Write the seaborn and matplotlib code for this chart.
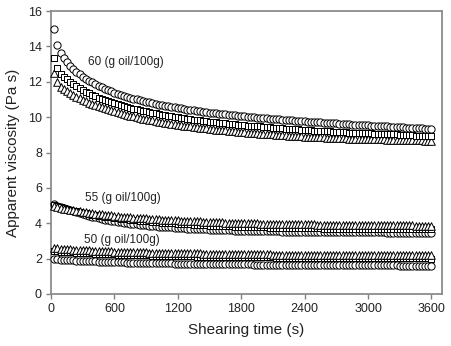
import matplotlib
matplotlib.use("Agg")
import matplotlib.pyplot as plt
import seaborn as sns
import pandas as pd

# ---------------- data ----------------
time_s = list(range(30, 3601, 30))

c60 = [14.96, 14.08, 13.62, 13.33, 13.10, 12.90, 12.72, 12.56, 12.42, 12.29,
       12.17, 12.06, 11.96, 11.86, 11.77, 11.69, 11.61, 11.53, 11.46, 11.39,
       11.33, 11.27, 11.21, 11.15, 11.10, 11.05, 11.00, 10.95, 10.91, 10.87,
       10.83, 10.79, 10.75, 10.71, 10.67, 10.64, 10.61, 10.58, 10.55, 10.52,
       10.49, 10.46, 10.43, 10.41, 10.38, 10.36, 10.33, 10.31, 10.28, 10.26,
       10.24, 10.22, 10.20, 10.18, 10.16, 10.14, 10.12, 10.10, 10.08, 10.06,
       10.04, 10.02, 10.01, 9.99, 9.97, 9.96, 9.94, 9.93, 9.91, 9.90,
       9.88, 9.87, 9.85, 9.84, 9.83, 9.81, 9.80, 9.79, 9.78, 9.76,
       9.75, 9.74, 9.72, 9.71, 9.70, 9.69, 9.67, 9.66, 9.65, 9.64,
       9.63, 9.61, 9.60, 9.59, 9.58, 9.57, 9.56, 9.55, 9.54, 9.53,
       9.52, 9.51, 9.50, 9.49, 9.48, 9.47, 9.46, 9.45, 9.44, 9.43,
       9.42, 9.41, 9.40, 9.39, 9.38, 9.37, 9.36, 9.35, 9.34, 9.33]

s60 = [13.32, 12.76, 12.44, 12.28, 12.13, 12.00, 11.87, 11.75, 11.64, 11.54,
       11.44, 11.34, 11.26, 11.17, 11.10, 11.03, 10.96, 10.90, 10.84, 10.79,
       10.74, 10.68, 10.63, 10.57, 10.53, 10.48, 10.44, 10.39, 10.36, 10.32,
       10.28, 10.25, 10.21, 10.17, 10.14, 10.11, 10.08, 10.06, 10.03, 10.00,
       9.97, 9.94, 9.91, 9.89, 9.86, 9.85, 9.82, 9.80, 9.77, 9.75,
       9.73, 9.71, 9.69, 9.67, 9.65, 9.63, 9.62, 9.60, 9.58, 9.56,
       9.54, 9.52, 9.51, 9.49, 9.48, 9.47, 9.45, 9.44, 9.42, 9.41,
       9.39, 9.38, 9.36, 9.35, 9.34, 9.33, 9.32, 9.31, 9.30, 9.28,
       9.27, 9.26, 9.24, 9.23, 9.22, 9.22, 9.20, 9.19, 9.18, 9.18,
       9.17, 9.15, 9.14, 9.13, 9.13, 9.12, 9.11, 9.10, 9.10, 9.09,
       9.08, 9.07, 9.07, 9.06, 9.05, 9.04, 9.03, 9.03, 9.02, 9.01,
       9.00, 8.99, 8.98, 8.97, 8.96, 8.95, 8.95, 8.94, 8.93, 8.93]

t60 = [12.48, 12.00, 11.72, 11.58, 11.45, 11.35, 11.24, 11.14, 11.06, 10.99,
       10.90, 10.82, 10.75, 10.68, 10.61, 10.56, 10.50, 10.44, 10.39, 10.34,
       10.29, 10.24, 10.19, 10.14, 10.09, 10.05, 10.00, 9.96, 9.92, 9.89,
       9.85, 9.81, 9.78, 9.74, 9.71, 9.68, 9.66, 9.63, 9.61, 9.58,
       9.55, 9.52, 9.50, 9.48, 9.45, 9.43, 9.41, 9.39, 9.36, 9.34,
       9.32, 9.30, 9.28, 9.27, 9.25, 9.23, 9.21, 9.20, 9.18, 9.16,
       9.14, 9.12, 9.11, 9.10, 9.08, 9.07, 9.05, 9.05, 9.03, 9.02,
       9.00, 8.99, 8.97, 8.97, 8.96, 8.94, 8.94, 8.93, 8.92, 8.90,
       8.89, 8.88, 8.87, 8.86, 8.86, 8.85, 8.84, 8.83, 8.83, 8.82,
       8.82, 8.80, 8.80, 8.79, 8.79, 8.78, 8.78, 8.77, 8.77, 8.76,
       8.76, 8.75, 8.75, 8.74, 8.74, 8.73, 8.73, 8.72, 8.72, 8.71,
       8.71, 8.70, 8.70, 8.69, 8.69, 8.68, 8.68, 8.67, 8.67, 8.65]

c55 = [5.08, 5.00, 4.93, 4.86, 4.79, 4.73, 4.67, 4.61, 4.56, 4.51,
       4.46, 4.41, 4.37, 4.33, 4.29, 4.25, 4.21, 4.18, 4.15, 4.12,
       4.09, 4.06, 4.03, 4.01, 3.98, 3.96, 3.94, 3.92, 3.90, 3.88,
       3.86, 3.84, 3.83, 3.81, 3.80, 3.78, 3.77, 3.76, 3.74, 3.73,
       3.72, 3.71, 3.70, 3.69, 3.68, 3.67, 3.66, 3.66, 3.65, 3.64,
       3.63, 3.63, 3.62, 3.61, 3.61, 3.60, 3.60, 3.59, 3.59, 3.58,
       3.58, 3.57, 3.57, 3.56, 3.56, 3.56, 3.55, 3.55, 3.55, 3.54,
       3.54, 3.54, 3.53, 3.53, 3.53, 3.53, 3.52, 3.52, 3.52, 3.52,
       3.51, 3.51, 3.51, 3.51, 3.51, 3.50, 3.50, 3.50, 3.50, 3.50,
       3.50, 3.49, 3.49, 3.49, 3.49, 3.49, 3.49, 3.48, 3.48, 3.48,
       3.48, 3.48, 3.48, 3.48, 3.48, 3.47, 3.47, 3.47, 3.47, 3.47,
       3.47, 3.47, 3.47, 3.46, 3.46, 3.46, 3.46, 3.46, 3.46, 3.46]

s55 = [5.02, 4.96, 4.90, 4.85, 4.80, 4.75, 4.71, 4.67, 4.63, 4.59,
       4.56, 4.52, 4.49, 4.46, 4.43, 4.40, 4.38, 4.35, 4.33, 4.30,
       4.28, 4.26, 4.24, 4.22, 4.20, 4.18, 4.16, 4.14, 4.13, 4.11,
       4.10, 4.08, 4.07, 4.05, 4.04, 4.02, 4.01, 4.00, 3.99, 3.97,
       3.96, 3.95, 3.94, 3.93, 3.92, 3.91, 3.90, 3.89, 3.88, 3.87,
       3.86, 3.85, 3.85, 3.84, 3.83, 3.82, 3.82, 3.81, 3.80, 3.80,
       3.79, 3.79, 3.78, 3.78, 3.77, 3.77, 3.76, 3.76, 3.75, 3.75,
       3.75, 3.74, 3.74, 3.74, 3.73, 3.73, 3.73, 3.72, 3.72, 3.72,
       3.72, 3.71, 3.71, 3.71, 3.71, 3.70, 3.70, 3.70, 3.70, 3.70,
       3.69, 3.69, 3.69, 3.69, 3.69, 3.69, 3.68, 3.68, 3.68, 3.68,
       3.68, 3.68, 3.68, 3.67, 3.67, 3.67, 3.67, 3.67, 3.67, 3.67,
       3.67, 3.66, 3.66, 3.66, 3.66, 3.66, 3.66, 3.66, 3.66, 3.66]

t55 = [4.95, 4.91, 4.87, 4.83, 4.79, 4.76, 4.73, 4.70, 4.67, 4.64,
       4.61, 4.59, 4.56, 4.54, 4.52, 4.50, 4.48, 4.46, 4.44, 4.42,
       4.40, 4.38, 4.37, 4.35, 4.34, 4.32, 4.31, 4.29, 4.28, 4.27,
       4.26, 4.24, 4.23, 4.22, 4.21, 4.20, 4.19, 4.18, 4.17, 4.16,
       4.15, 4.14, 4.13, 4.12, 4.11, 4.10, 4.10, 4.09, 4.08, 4.07,
       4.07, 4.06, 4.05, 4.05, 4.04, 4.03, 4.03, 4.02, 4.02, 4.01,
       4.01, 4.00, 4.00, 3.99, 3.99, 3.98, 3.98, 3.98, 3.97, 3.97,
       3.96, 3.96, 3.96, 3.95, 3.95, 3.95, 3.94, 3.94, 3.94, 3.93,
       3.93, 3.93, 3.93, 3.92, 3.92, 3.92, 3.92, 3.91, 3.91, 3.91,
       3.91, 3.91, 3.90, 3.90, 3.90, 3.90, 3.90, 3.90, 3.89, 3.89,
       3.89, 3.89, 3.89, 3.89, 3.89, 3.88, 3.88, 3.88, 3.88, 3.88,
       3.88, 3.88, 3.88, 3.88, 3.87, 3.87, 3.87, 3.87, 3.87, 3.87]

t50 = [2.60, 2.58, 2.56, 2.55, 2.53, 2.52, 2.51, 2.50, 2.49, 2.48,
       2.47, 2.46, 2.45, 2.44, 2.43, 2.43, 2.42, 2.41, 2.41, 2.40,
       2.39, 2.39, 2.38, 2.38, 2.37, 2.37, 2.36, 2.36, 2.35, 2.35,
       2.34, 2.34, 2.34, 2.33, 2.33, 2.32, 2.32, 2.32, 2.31, 2.31,
       2.31, 2.30, 2.30, 2.30, 2.29, 2.29, 2.29, 2.28, 2.28, 2.28,
       2.28, 2.27, 2.27, 2.27, 2.27, 2.26, 2.26, 2.26, 2.26, 2.25,
       2.25, 2.25, 2.25, 2.25, 2.24, 2.24, 2.24, 2.24, 2.24, 2.23,
       2.23, 2.23, 2.23, 2.23, 2.23, 2.22, 2.22, 2.22, 2.22, 2.22,
       2.22, 2.22, 2.21, 2.21, 2.21, 2.21, 2.21, 2.21, 2.21, 2.21,
       2.20, 2.20, 2.20, 2.20, 2.20, 2.20, 2.20, 2.20, 2.20, 2.20,
       2.19, 2.19, 2.19, 2.19, 2.19, 2.19, 2.19, 2.19, 2.19, 2.19,
       2.19, 2.18, 2.18, 2.18, 2.18, 2.18, 2.18, 2.18, 2.18, 2.18]

s50 = [2.44, 2.42, 2.40, 2.39, 2.37, 2.36, 2.35, 2.34, 2.33, 2.32,
       2.31, 2.30, 2.29, 2.28, 2.27, 2.26, 2.26, 2.25, 2.24, 2.24,
       2.23, 2.22, 2.22, 2.21, 2.21, 2.20, 2.20, 2.19, 2.19, 2.18,
       2.18, 2.17, 2.17, 2.17, 2.16, 2.16, 2.15, 2.15, 2.15, 2.14,
       2.14, 2.14, 2.13, 2.13, 2.13, 2.12, 2.12, 2.12, 2.11, 2.11,
       2.11, 2.11, 2.10, 2.10, 2.10, 2.10, 2.09, 2.09, 2.09, 2.09,
       2.08, 2.08, 2.08, 2.08, 2.08, 2.07, 2.07, 2.07, 2.07, 2.07,
       2.06, 2.06, 2.06, 2.06, 2.06, 2.06, 2.05, 2.05, 2.05, 2.05,
       2.05, 2.05, 2.04, 2.04, 2.04, 2.04, 2.04, 2.04, 2.04, 2.03,
       2.03, 2.03, 2.03, 2.03, 2.03, 2.03, 2.03, 2.03, 2.02, 2.02,
       2.02, 2.02, 2.02, 2.02, 2.02, 2.02, 2.02, 2.02, 2.01, 2.01,
       2.01, 2.01, 2.01, 2.01, 2.01, 2.01, 2.01, 2.01, 2.01, 2.00]

c50 = [1.97, 1.96, 1.94, 1.93, 1.92, 1.91, 1.90, 1.89, 1.88, 1.87,
       1.86, 1.85, 1.85, 1.84, 1.83, 1.83, 1.82, 1.81, 1.81, 1.80,
       1.80, 1.79, 1.79, 1.78, 1.78, 1.77, 1.77, 1.76, 1.76, 1.75,
       1.75, 1.75, 1.74, 1.74, 1.74, 1.73, 1.73, 1.73, 1.72, 1.72,
       1.72, 1.71, 1.71, 1.71, 1.71, 1.70, 1.70, 1.70, 1.70, 1.69,
       1.69, 1.69, 1.69, 1.68, 1.68, 1.68, 1.68, 1.68, 1.67, 1.67,
       1.67, 1.67, 1.67, 1.66, 1.66, 1.66, 1.66, 1.66, 1.66, 1.65,
       1.65, 1.65, 1.65, 1.65, 1.65, 1.65, 1.64, 1.64, 1.64, 1.64,
       1.64, 1.64, 1.64, 1.64, 1.64, 1.63, 1.63, 1.63, 1.63, 1.63,
       1.63, 1.63, 1.63, 1.63, 1.63, 1.63, 1.62, 1.62, 1.62, 1.62,
       1.62, 1.62, 1.62, 1.62, 1.62, 1.62, 1.62, 1.62, 1.62, 1.61,
       1.61, 1.61, 1.61, 1.61, 1.61, 1.61, 1.61, 1.61, 1.61, 1.61]

x_ticks = [0, 600, 1200, 1800, 2400, 3000, 3600]
y_ticks = [0, 2, 4, 6, 8, 10, 12, 14, 16]
labels = ["60 (g oil/100g)", "55 (g oil/100g)", "50 (g oil/100g)"]
label_pos = [(350, 13.13), (325, 5.41), (309, 3.05)]

# ---------------- style ----------------
sns.set_style("ticks")
plt.rcParams["font.family"] = ["Liberation Sans", "DejaVu Sans"]

fig = plt.figure(figsize=(4.51, 3.46), dpi=100)
ax = fig.add_axes([51 / 451, 52 / 346, 391 / 451, 283 / 346])

series = [
    (t60, "^"), (s60, "s"), (c60, "o"),
    (c55, "o"), (s55, "s"), (t55, "^"),
    (c50, "o"), (s50, "s"), (t50, "^"),
]
sizes = {"o": 27, "s": 22, "^": 30}
for vals, mk in series:
    n = min(len(time_s), len(vals))
    df = pd.DataFrame({"t": time_s[:n], "v": vals[:n]})
    sns.scatterplot(data=df, x="t", y="v", marker=mk, s=sizes[mk],
                    color="white", edgecolor="black", linewidth=0.7,
                    ax=ax, legend=False, zorder=3, clip_on=False)

for txt, (tx, ty) in zip(labels, label_pos):
    ax.text(tx, ty, txt, fontsize=8.5, ha="left", va="center", color="#222222")

ax.set_xlim(0, 3700)
ax.set_ylim(0, 16)
ax.set_xticks(x_ticks)
ax.set_yticks(y_ticks)
ax.set_xlabel("Shearing time (s)", fontsize=11, color="#222222", labelpad=6)
ax.set_ylabel("Apparent viscosity (Pa s)", fontsize=11, color="#222222", labelpad=6)
ax.tick_params(axis="both", direction="out", length=3.5, width=1,
               color="#808080", labelsize=9, labelcolor="#222222", pad=3)
for sp in ax.spines.values():
    sp.set_visible(True)
    sp.set_color("#8c8c8c")
    sp.set_linewidth(1.3)
ax.set_facecolor("white")
fig.patch.set_facecolor("white")

fig.savefig("out.png", dpi=100)
